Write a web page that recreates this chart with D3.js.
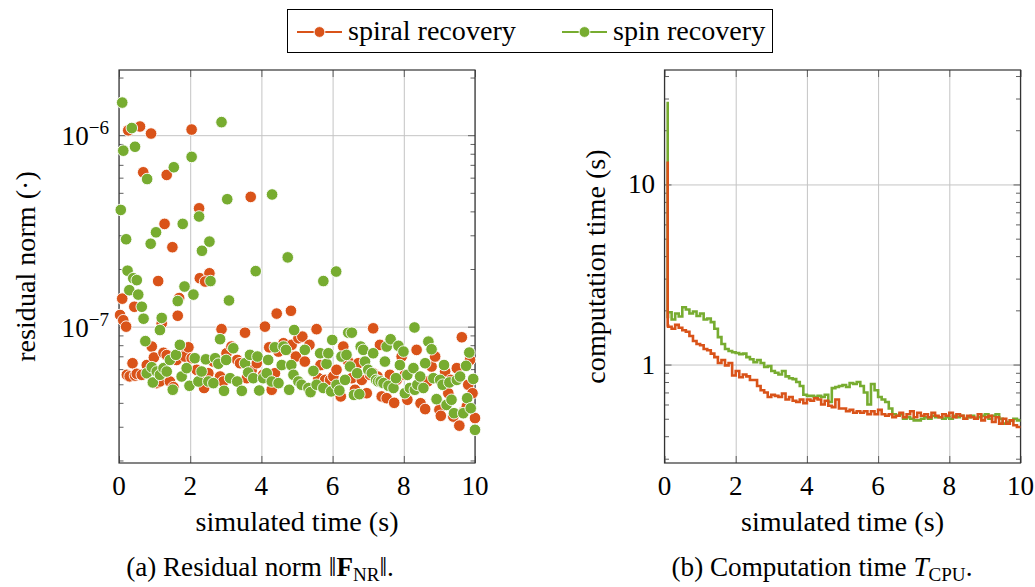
<!DOCTYPE html>
<html>
<head>
<meta charset="utf-8">
<script src="https://cdn.jsdelivr.net/npm/d3@7"></script>
<style>
  body { margin: 0; background: #fff; }
</style>
</head>
<body>
<svg id="chart"></svg>
<script>
const width = 1035
const height = 587
const orange = '#d95319'
const green = '#77ac30'
const serif = 'Liberation Serif, DejaVu Serif, serif'

const seriesNames = ['spiral recovery', 'spin recovery']
const xTicks = [0, 2, 4, 6, 8, 10]

// (a) residual norm, [simulated time, residual]
const spiralResidual = [
  [0.26, 1.06e-6], [0.59, 1.11e-6], [0.90, 1.02e-6], [2.04, 1.07e-6], [0.68, 6.4e-7], [1.34, 6.2e-7],
  [3.70, 4.76e-7], [2.25, 4.15e-7], [1.28, 3.44e-7], [1.50, 2.6e-7], [1.10, 1.73e-7], [2.27, 1.79e-7],
  [2.54, 1.9e-7], [2.42, 1.72e-7], [0.09, 1.4e-7], [1.69, 1.41e-7], [0.43, 1.27e-7], [0.03, 1.15e-7],
  [0.12, 1.08e-7], [0.20, 1.0e-7], [1.65, 1.14e-7], [1.20, 1.04e-7], [4.43, 1.17e-7], [4.83, 1.21e-7],
  [4.10, 1.0e-7], [2.88, 9.7e-8], [5.55, 9.7e-8], [7.14, 9.8e-8], [3.54, 9.3e-8], [9.63, 8.8e-8],
  [0.22, 5.6e-8], [0.30, 5.5e-8], [0.38, 6.44e-8], [0.45, 5.55e-8], [0.50, 5.67e-8], [0.64, 5.6e-8],
  [0.78, 6.3e-8], [0.92, 7.87e-8], [0.98, 6.9e-8], [1.06, 5.07e-8], [1.15, 5.17e-8], [1.25, 7.3e-8],
  [1.34, 7.1e-8], [1.43, 5.17e-8], [1.53, 4.83e-8], [1.62, 6.7e-8], [1.76, 7.56e-8], [1.85, 6.98e-8],
  [1.95, 7.8e-8], [2.04, 6.84e-8], [2.18, 5.95e-8], [2.28, 5.27e-8], [2.39, 4.78e-8], [2.51, 5.71e-8],
  [2.65, 6.57e-8], [2.84, 5.49e-8], [2.93, 5.17e-8], [3.02, 7.26e-8], [3.16, 7.87e-8], [3.32, 6.7e-8],
  [3.40, 6.44e-8], [3.59, 5.38e-8], [3.73, 5.95e-8], [3.87, 6.44e-8], [4.05, 5.6e-8], [4.22, 7.8e-8],
  [4.29, 4.68e-8], [4.38, 5.71e-8], [4.48, 7.41e-8], [4.62, 8.19e-8], [4.73, 7.56e-8], [4.85, 8.03e-8],
  [4.97, 6.98e-8], [5.04, 8.7e-8], [5.15, 8.87e-8], [5.22, 6.57e-8], [5.35, 8.03e-8], [5.46, 5.83e-8],
  [5.60, 5.38e-8], [5.66, 6.3e-8], [5.79, 5.27e-8], [5.93, 5.27e-8], [6.02, 5.49e-8], [6.11, 5.95e-8],
  [6.23, 4.32e-8], [6.30, 7.87e-8], [6.44, 6.57e-8], [6.54, 5.38e-8], [6.63, 4.68e-8], [6.72, 6.44e-8],
  [6.82, 5.27e-8], [6.96, 4.49e-8], [7.05, 5.6e-8], [7.14, 5.71e-8], [7.26, 5.49e-8], [7.33, 8.03e-8],
  [7.38, 4.32e-8], [7.52, 4.23e-8], [7.61, 5.6e-8], [7.73, 4.0e-8], [7.80, 5.27e-8], [7.94, 6.98e-8],
  [8.03, 5.6e-8], [8.10, 4.15e-8], [8.22, 4.78e-8], [8.36, 7.56e-8], [8.47, 3.98e-8], [8.60, 3.71e-8],
  [8.67, 5.17e-8], [8.78, 6.19e-8], [8.88, 6.98e-8], [9.00, 3.68e-8], [9.04, 3.42e-8], [9.16, 5.83e-8],
  [9.25, 4.49e-8], [9.32, 5.27e-8], [9.39, 3.39e-8], [9.49, 6.07e-8], [9.56, 3.04e-8], [9.69, 3.6e-8],
  [9.77, 3.83e-8], [9.81, 4.97e-8], [9.86, 6.7e-8], [9.93, 4.49e-8], [10.0, 3.33e-8]
]

const spinResidual = [
  [0.09, 1.48e-6], [0.12, 8.3e-7], [0.36, 1.09e-6], [0.45, 8.7e-7], [2.88, 1.17e-6], [2.04, 7.7e-7],
  [1.54, 6.8e-7], [0.79, 5.9e-7], [0.05, 4.07e-7], [3.04, 4.63e-7], [4.30, 4.9e-7], [2.25, 3.76e-7],
  [1.79, 3.44e-7], [1.04, 3.11e-7], [0.20, 2.86e-7], [0.89, 2.71e-7], [2.54, 2.78e-7], [2.33, 2.49e-7],
  [4.74, 2.3e-7], [0.24, 1.96e-7], [3.84, 1.95e-7], [6.10, 1.94e-7], [5.74, 1.73e-7], [0.40, 1.79e-7],
  [0.50, 1.75e-7], [2.57, 1.73e-7], [0.29, 1.55e-7], [1.84, 1.62e-7], [0.54, 1.47e-7], [2.09, 1.47e-7],
  [0.64, 1.27e-7], [1.65, 1.36e-7], [3.09, 1.37e-7], [0.69, 1.10e-7], [1.20, 1.11e-7], [1.15, 9.6e-8],
  [0.74, 8.4e-8], [8.30, 9.9e-8], [4.92, 9.6e-8],
  [0.78, 5.71e-8], [0.92, 6.14e-8], [0.95, 5.11e-8], [1.06, 5.83e-8], [1.15, 5.6e-8], [1.25, 6.07e-8],
  [1.34, 5.83e-8], [1.43, 6.7e-8], [1.51, 4.68e-8], [1.60, 7.12e-8], [1.71, 8.03e-8], [1.76, 5.49e-8],
  [1.90, 6.07e-8], [1.98, 4.91e-8], [2.13, 6.84e-8], [2.23, 5.17e-8], [2.32, 5.83e-8], [2.44, 6.75e-8],
  [2.51, 5.17e-8], [2.65, 5.07e-8], [2.70, 6.84e-8], [2.79, 6.4e-8], [2.84, 8.6e-8], [2.95, 4.62e-8],
  [3.01, 6.7e-8], [3.12, 5.38e-8], [3.21, 7.71e-8], [3.32, 5.17e-8], [3.45, 4.62e-8], [3.54, 6.44e-8],
  [3.63, 5.76e-8], [3.68, 7.12e-8], [3.77, 5.38e-8], [3.89, 6.98e-8], [3.94, 4.64e-8], [4.05, 5.38e-8],
  [4.15, 5.71e-8], [4.19, 6.7e-8], [4.29, 5.17e-8], [4.38, 7.8e-8], [4.48, 5.07e-8], [4.57, 6.3e-8],
  [4.62, 7.87e-8], [4.69, 7.56e-8], [4.78, 4.68e-8], [4.84, 6.3e-8], [4.90, 5.6e-8], [5.04, 5.17e-8],
  [5.13, 4.97e-8], [5.22, 7.56e-8], [5.32, 4.78e-8], [5.38, 4.55e-8], [5.46, 5.87e-8], [5.55, 4.97e-8],
  [5.65, 7.26e-8], [5.74, 4.78e-8], [5.83, 6.4e-8], [5.88, 7.26e-8], [5.96, 4.59e-8], [5.99, 8.52e-8],
  [6.11, 4.97e-8], [6.19, 4.64e-8], [6.25, 6.98e-8], [6.35, 5.27e-8], [6.39, 7.12e-8], [6.44, 9.3e-8],
  [6.54, 9.3e-8], [6.49, 6.19e-8], [6.60, 4.4e-8], [6.69, 5.71e-8], [6.75, 4.44e-8], [6.79, 7.87e-8],
  [6.86, 7.56e-8], [6.91, 6.57e-8], [7.00, 5.95e-8], [7.10, 5.71e-8], [7.14, 7.26e-8], [7.22, 5.27e-8],
  [7.28, 5.17e-8], [7.35, 5.17e-8], [7.43, 5.07e-8], [7.47, 6.57e-8], [7.52, 7.87e-8], [7.57, 4.91e-8],
  [7.63, 8.59e-8], [7.71, 4.78e-8], [7.78, 5.38e-8], [7.85, 7.94e-8], [7.89, 6.3e-8], [7.99, 7.41e-8],
  [8.03, 4.49e-8], [8.10, 5.6e-8], [8.17, 4.78e-8], [8.27, 6.07e-8], [8.31, 4.68e-8], [8.38, 4.97e-8],
  [8.46, 5.49e-8], [8.55, 4.78e-8], [8.60, 6.44e-8], [8.69, 8.35e-8], [8.78, 7.62e-8], [8.83, 5.38e-8],
  [8.92, 4.18e-8], [9.02, 5.27e-8], [9.09, 4.97e-8], [9.13, 6.3e-8], [9.20, 3.9e-8], [9.28, 5.11e-8],
  [9.34, 4.15e-8], [9.41, 3.53e-8], [9.49, 5.27e-8], [9.58, 5.49e-8], [9.67, 3.53e-8], [9.75, 6.24e-8],
  [9.78, 4.23e-8], [9.84, 7.32e-8], [9.88, 3.75e-8], [9.95, 5.33e-8], [10.0, 2.89e-8]
]

// (b) computation time: first-step peak, then one value per 0.1 s step
const cpuStart = 0.09
const spiralCpuPeak = 13.4
const spinCpuPeak = 28.8
const spiralCpu = [
  1.65, 1.62, 1.58, 1.66, 1.60, 1.55, 1.52, 1.44, 1.35, 1.30,
  1.28, 1.22, 1.20, 1.15, 1.10, 1.02, 1.06, 0.99, 1.02, 0.87,
  0.92, 0.85, 0.88, 0.86, 0.82, 0.82, 0.76, 0.72, 0.70, 0.66,
  0.68, 0.67, 0.66, 0.69, 0.64, 0.66, 0.63, 0.62, 0.64, 0.61,
  0.64, 0.63, 0.65, 0.64, 0.60, 0.63, 0.59, 0.58, 0.64, 0.57,
  0.57, 0.55, 0.56, 0.54, 0.55, 0.54, 0.55, 0.53, 0.55, 0.53,
  0.56, 0.53, 0.52, 0.53, 0.51, 0.52, 0.54, 0.51, 0.53, 0.55,
  0.51, 0.54, 0.52, 0.53, 0.51, 0.54, 0.52, 0.51, 0.53, 0.52,
  0.54, 0.51, 0.53, 0.52, 0.50, 0.52, 0.51, 0.50, 0.53, 0.49,
  0.51, 0.52, 0.48, 0.51, 0.47, 0.50, 0.47, 0.49, 0.46, 0.45
]
const spinCpu = [
  1.84, 1.95, 1.78, 1.92, 1.85, 2.08, 2.02, 1.92, 1.97, 1.86,
  1.92, 1.78, 1.80, 1.72, 1.58, 1.42, 1.30, 1.22, 1.19, 1.17,
  1.16, 1.14, 1.15, 1.10, 1.07, 1.03, 1.06, 1.02, 0.97, 0.98,
  0.92, 0.90, 0.88, 0.92, 0.86, 0.84, 0.83, 0.80, 0.76, 0.68,
  0.67, 0.67, 0.66, 0.67, 0.66, 0.68, 0.62, 0.74, 0.75, 0.76,
  0.77, 0.75, 0.79, 0.78, 0.80, 0.76, 0.70, 0.60, 0.78, 0.72,
  0.66, 0.64, 0.62, 0.57, 0.53, 0.52, 0.53, 0.50, 0.51, 0.50,
  0.49, 0.49, 0.50, 0.51, 0.50, 0.52, 0.51, 0.51, 0.50, 0.51,
  0.50, 0.52, 0.51, 0.52, 0.50, 0.51, 0.52, 0.50, 0.51, 0.52,
  0.53, 0.50, 0.52, 0.53, 0.50, 0.47, 0.48, 0.49, 0.50, 0.49
]

const svg = d3.select('#chart')
  .attr('width', width)
  .attr('height', height)
  .style('font-family', serif)

// pick the font size so that the legend text is as wide as in the reference (168 px)
const probe = svg.append('text').style('font-family', serif).attr('font-size', 28).text('spiral recovery')
const fontScale = Math.min(1.05, 168 / probe.node().getComputedTextLength())
probe.remove()
const fs = (s) => s * fontScale

// panel geometry
const panelA = { left: 119, right: 475, top: 70, bottom: 463 }
const panelB = { left: 664.5, right: 1020.5, top: 70, bottom: 463 }

const xA = d3.scaleLinear().domain([0, 10]).range([panelA.left, panelA.right])
const yA = d3.scaleLog().domain([1.94e-8, 2.19e-6]).range([panelA.bottom, panelA.top])
const xB = d3.scaleLinear().domain([0, 10]).range([panelB.left, panelB.right])
const yB = d3.scaleLog().domain([0.284, 43.2]).range([panelB.bottom, panelB.top])

function minorTicks (y) {
  const [lo, hi] = y.domain()
  const out = []
  for (let e = Math.floor(Math.log10(lo)); e <= Math.ceil(Math.log10(hi)); e++) {
    for (let m = 2; m <= 9; m++) {
      const v = m * Math.pow(10, e)
      if (v > lo && v < hi) out.push(v)
    }
  }
  return out
}

function txt (sel, size) {
  return sel.style('font-family', serif).attr('font-size', fs(size)).attr('fill', '#000')
}

function drawFrame (p, x, y, yMajors) {
  const w = p.right - p.left
  const h = p.bottom - p.top
  const g = svg.append('g')

  // grid
  g.append('g')
    .attr('transform', `translate(0,${p.bottom})`)
    .call(d3.axisBottom(x).tickValues(xTicks).tickSize(-h).tickFormat(''))
  g.append('g')
    .attr('transform', `translate(${p.left},0)`)
    .call(d3.axisLeft(y).tickValues(yMajors).tickSize(-w).tickFormat(''))
  g.selectAll('.domain').remove()
  g.selectAll('line').attr('stroke', '#c4c4c4').attr('stroke-width', 1)

  // inward ticks on all four sides
  const t = svg.append('g').attr('class', 'ticks')
  t.append('g').attr('transform', `translate(0,${p.bottom})`)
    .call(d3.axisBottom(x).tickValues(xTicks).tickSizeInner(-7).tickSizeOuter(0).tickFormat(''))
  t.append('g').attr('transform', `translate(0,${p.top})`)
    .call(d3.axisTop(x).tickValues(xTicks).tickSizeInner(-7).tickSizeOuter(0).tickFormat(''))
  t.append('g').attr('transform', `translate(${p.left},0)`)
    .call(d3.axisLeft(y).tickValues(yMajors).tickSizeInner(-7).tickSizeOuter(0).tickFormat(''))
  t.append('g').attr('transform', `translate(${p.right},0)`)
    .call(d3.axisRight(y).tickValues(yMajors).tickSizeInner(-7).tickSizeOuter(0).tickFormat(''))
  t.append('g').attr('transform', `translate(${p.left},0)`)
    .call(d3.axisLeft(y).tickValues(minorTicks(y)).tickSizeInner(-4.5).tickSizeOuter(0).tickFormat(''))
  t.append('g').attr('transform', `translate(${p.right},0)`)
    .call(d3.axisRight(y).tickValues(minorTicks(y)).tickSizeInner(-4.5).tickSizeOuter(0).tickFormat(''))
  t.selectAll('.domain').remove()
  t.selectAll('line').attr('stroke', '#606060').attr('stroke-width', 1)

  // frame
  svg.append('rect')
    .attr('x', p.left).attr('y', p.top)
    .attr('width', w).attr('height', h)
    .attr('fill', 'none').attr('stroke', '#333').attr('stroke-width', 1.2)

  // x tick labels
  svg.append('g')
    .selectAll('text').data(xTicks).join('text')
    .attr('x', (d) => x(d))
    .attr('y', p.bottom + 32)
    .attr('text-anchor', 'middle')
    .call(txt, 27)
    .text((d) => d)
}

drawFrame(panelA, xA, yA, [1e-7, 1e-6])
drawFrame(panelB, xB, yB, [1, 10])

// y tick labels, panel (a): powers of ten
const yaLabels = svg.append('g').selectAll('text').data([-7, -6]).join('text')
  .attr('x', 109)
  .attr('y', (d) => yA(Math.pow(10, d)) + 10)
  .attr('text-anchor', 'end')
  .call(txt, 27)
yaLabels.append('tspan').text('10')
yaLabels.append('tspan').attr('dy', -11).attr('font-size', fs(19)).text((d) => '\u2212' + Math.abs(d))

// y tick labels, panel (b)
svg.append('g').selectAll('text').data([1, 10]).join('text')
  .attr('x', 655)
  .attr('y', (d) => yB(d) + 9)
  .attr('text-anchor', 'end')
  .call(txt, 27)
  .text((d) => d)

// axis labels
svg.append('text')
  .attr('x', (panelA.left + panelA.right) / 2).attr('y', 531)
  .attr('text-anchor', 'middle').call(txt, 28)
  .text('simulated time (s)')
svg.append('text')
  .attr('x', (panelB.left + panelB.right) / 2).attr('y', 531)
  .attr('text-anchor', 'middle').call(txt, 28)
  .text('simulated time (s)')
svg.append('text')
  .attr('transform', `translate(35,${(panelA.top + panelA.bottom) / 2}) rotate(-90)`)
  .attr('text-anchor', 'middle').call(txt, 28)
  .text('residual norm (\u00b7)')
svg.append('text')
  .attr('transform', `translate(605,${(panelB.top + panelB.bottom) / 2}) rotate(-90)`)
  .attr('text-anchor', 'middle').call(txt, 28)
  .text('computation time (s)')

// (a) scatter marks
const scatter = [
  { data: spiralResidual, color: orange },
  { data: spinResidual, color: green }
]
scatter.forEach((s) => {
  svg.append('g').selectAll('circle').data(s.data).join('circle')
    .attr('cx', (d) => xA(d[0]))
    .attr('cy', (d) => yA(d[1]))
    .attr('r', 5.8)
    .attr('fill', s.color)
    .attr('stroke', '#fff')
    .attr('stroke-width', 0.9)
})

// (b) step lines
const stepLine = d3.line()
  .x((d) => xB(d[0]))
  .y((d) => yB(d[1]))
  .curve(d3.curveStepBefore)

const cpuSeries = [
  { peak: spinCpuPeak, values: spinCpu, color: green },
  { peak: spiralCpuPeak, values: spiralCpu, color: orange }
]
cpuSeries.forEach((s) => {
  const pts = [[cpuStart, s.peak]].concat(s.values.map((v, i) => [(i + 1) / 10, v]))
  svg.append('path')
    .datum(pts)
    .attr('d', stepLine)
    .attr('fill', 'none')
    .attr('stroke', s.color)
    .attr('stroke-width', 2.6)
})

// legend
const legend = svg.append('g')
legend.append('rect')
  .attr('x', 287.5).attr('y', 9.5).attr('width', 485).attr('height', 43)
  .attr('fill', '#fff').attr('stroke', '#000').attr('stroke-width', 1)
const legendX = [297, 562]
const legendColors = [orange, green]
seriesNames.forEach((name, i) => {
  const lx = legendX[i]
  legend.append('line')
    .attr('x1', lx).attr('x2', lx + 45).attr('y1', 32).attr('y2', 32)
    .attr('stroke', legendColors[i]).attr('stroke-width', 2.2)
  legend.append('circle')
    .attr('cx', lx + 22.5).attr('cy', 32).attr('r', 5.4)
    .attr('fill', legendColors[i]).attr('stroke', '#fff').attr('stroke-width', 0.9)
  legend.append('text')
    .attr('x', lx + 51).attr('y', 40)
    .call(txt, 28)
    .text(name)
})

// captions
const capA = svg.append('text')
  .attr('x', 260).attr('y', 576)
  .attr('text-anchor', 'middle').call(txt, 27)
capA.append('tspan').text('(a) Residual norm \u2016')
capA.append('tspan').attr('font-weight', 'bold').text('F')
capA.append('tspan').attr('font-size', fs(19)).attr('dy', 5).text('NR')
capA.append('tspan').attr('dy', -5).text('\u2016.')

const capB = svg.append('text')
  .attr('x', 822).attr('y', 576)
  .attr('text-anchor', 'middle').call(txt, 27)
capB.append('tspan').text('(b) Computation time ')
capB.append('tspan').attr('font-style', 'italic').text('T')
capB.append('tspan').attr('font-size', fs(19)).attr('dy', 5).text('CPU')
capB.append('tspan').attr('dy', -5).text('.')
</script>
</body>
</html>
